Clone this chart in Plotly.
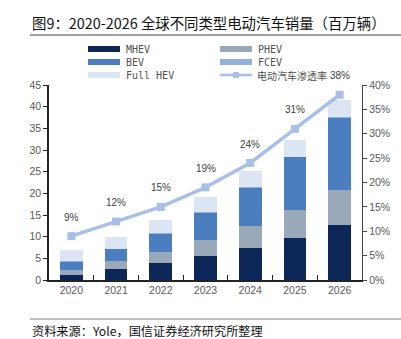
import plotly.graph_objects as go

# Sales by powertrain type (million units) and EV penetration rate
years = ["2020", "2021", "2022", "2023", "2024", "2025", "2026"]
mhev = [1.2, 2.5, 3.9, 5.5, 7.4, 9.8, 12.8]
phev = [1.2, 1.8, 2.6, 3.7, 5.0, 6.4, 8.0]
bev = [1.9, 2.9, 4.3, 6.4, 8.9, 12.2, 16.6]
fcev = [0.01, 0.01, 0.02, 0.03, 0.05, 0.08, 0.12]
full_hev = [2.5, 2.7, 3.1, 3.5, 3.7, 3.9, 4.0]
ev_rate = [9, 12, 15, 19, 24, 31, 38]
rate_labels = [f"{v}%" for v in ev_rate]

left_ticks = [0, 5, 10, 15, 20, 25, 30, 35, 40, 45]
right_ticks = [0, 5, 10, 15, 20, 25, 30, 35, 40]

series = [
    ("MHEV", mhev, "#0B2657"),
    ("PHEV", phev, "#9AA9BA"),
    ("BEV", bev, "#4A7EBF"),
    ("FCEV", fcev, "#94B1DE"),
    ("Full HEV", full_hev, "#DCE5F4"),
]
line_color = "#A8C0E7"

W, H = 401, 339
L, R, T, B = 49, 362, 85, 280


def px(xp):
    return (xp - L) / (R - L)


def py(yp):
    return (B - yp) / (B - T)


fig = go.Figure()
for name, vals, col in series:
    fig.add_trace(go.Bar(x=years, y=vals, name=name, marker_color=col,
                         marker_line_width=0, showlegend=False))

fig.add_trace(go.Scatter(
    x=years, y=ev_rate, yaxis="y2", mode="lines+markers",
    line=dict(color=line_color, width=3.5),
    marker=dict(symbol="square", size=8, color=line_color),
    showlegend=False, name="电动汽车渗透率"))

annotations = []
# penetration labels placed by category index above each marker
for i, (v, lab) in enumerate(zip(ev_rate, rate_labels)):
    annotations.append(dict(x=i, y=v, xref="x", yref="y2", text=lab,
                            showarrow=False, yshift=19,
                            font=dict(size=10, color="#404040",
                                      family="Liberation Sans")))

shapes = []
# Hand-drawn legend: wide swatches in two columns
legend_items = [
    ("MHEV", series[0][2], 88, 49),
    ("PHEV", series[1][2], 220, 49),
    ("BEV", series[2][2], 88, 62),
    ("FCEV", series[3][2], 220, 62),
    ("Full HEV", series[4][2], 88, 75),
]
for text, col, x0, yc in legend_items:
    shapes.append(dict(type="rect", xref="paper", yref="paper",
                       x0=px(x0), x1=px(x0 + 32), y0=py(yc + 3), y1=py(yc - 3),
                       fillcolor=col, line_width=0))
    annotations.append(dict(x=px(x0 + 36), y=py(yc), xref="paper", yref="paper",
                            text=text, showarrow=False, xanchor="left",
                            yanchor="middle",
                            font=dict(size=10, color="#505050",
                                      family="DejaVu Sans Mono")))
shapes.append(dict(type="line", xref="paper", yref="paper",
                   x0=px(220), x1=px(252), y0=py(75), y1=py(75),
                   line=dict(color=line_color, width=2.5)))
shapes.append(dict(type="rect", xref="paper", yref="paper",
                   x0=px(233), x1=px(239), y0=py(78), y1=py(72),
                   fillcolor=line_color, line_width=0))
annotations.append(dict(x=px(255), y=py(75), xref="paper", yref="paper",
                        text="电动汽车渗透率", showarrow=False, xanchor="left",
                        yanchor="middle",
                        font=dict(size=10, color="#505050",
                                  family="Noto Sans CJK SC")))

# Title, rules and source note
annotations.append(dict(x=px(30), y=py(22), xref="paper", yref="paper",
                        text="图9：2020-2026 全球不同类型电动汽车销量（百万辆）",
                        showarrow=False, xanchor="left", yanchor="middle",
                        font=dict(size=14.4, color="#111111",
                                  family="Noto Sans CJK SC")))
shapes.append(dict(type="line", xref="paper", yref="paper",
                   x0=px(30), x1=px(401), y0=py(35), y1=py(35),
                   line=dict(color="#7F7F7F", width=1.5)))
shapes.append(dict(type="line", xref="paper", yref="paper",
                   x0=px(30), x1=px(401), y0=py(319), y1=py(319),
                   line=dict(color="#7F7F7F", width=1.2)))
annotations.append(dict(x=px(30), y=py(331), xref="paper", yref="paper",
                        text="资料来源：Yole，国信证券经济研究所整理",
                        showarrow=False, xanchor="left", yanchor="middle",
                        font=dict(size=12.2, color="#111111",
                                  family="Noto Sans CJK SC")))

tick_font = dict(size=10.5, color="#595959", family="Liberation Sans")
fig.update_layout(
    width=W, height=H,
    margin=dict(l=L, r=W - R, t=T, b=H - B),
    barmode="stack", bargap=0.49,
    paper_bgcolor="white", plot_bgcolor="white",
    showlegend=False,
    xaxis=dict(type="category", range=[-0.5, len(years) - 0.5],
               showline=True, linecolor="#222222",
               linewidth=1.5, ticks="inside", ticklen=5, tickcolor="#222222",
               tickson="boundaries", tickfont=tick_font, showgrid=False),
    yaxis=dict(range=[0, 45], tickvals=left_ticks, showline=True,
               linecolor="#222222", linewidth=1.5, ticks="outside",
               ticklen=4, tickcolor="#222222", tickfont=tick_font,
               showgrid=False, zeroline=False),
    yaxis2=dict(range=[0, 40], tickvals=right_ticks,
                ticktext=[f"{v}%" for v in right_ticks], overlaying="y",
                side="right", showline=True, linecolor="#444444",
                linewidth=1.2, ticks="outside", ticklen=4,
                tickcolor="#444444", tickfont=tick_font, showgrid=False,
                zeroline=False),
    annotations=annotations, shapes=shapes,
)

fig.write_html("out.html")
